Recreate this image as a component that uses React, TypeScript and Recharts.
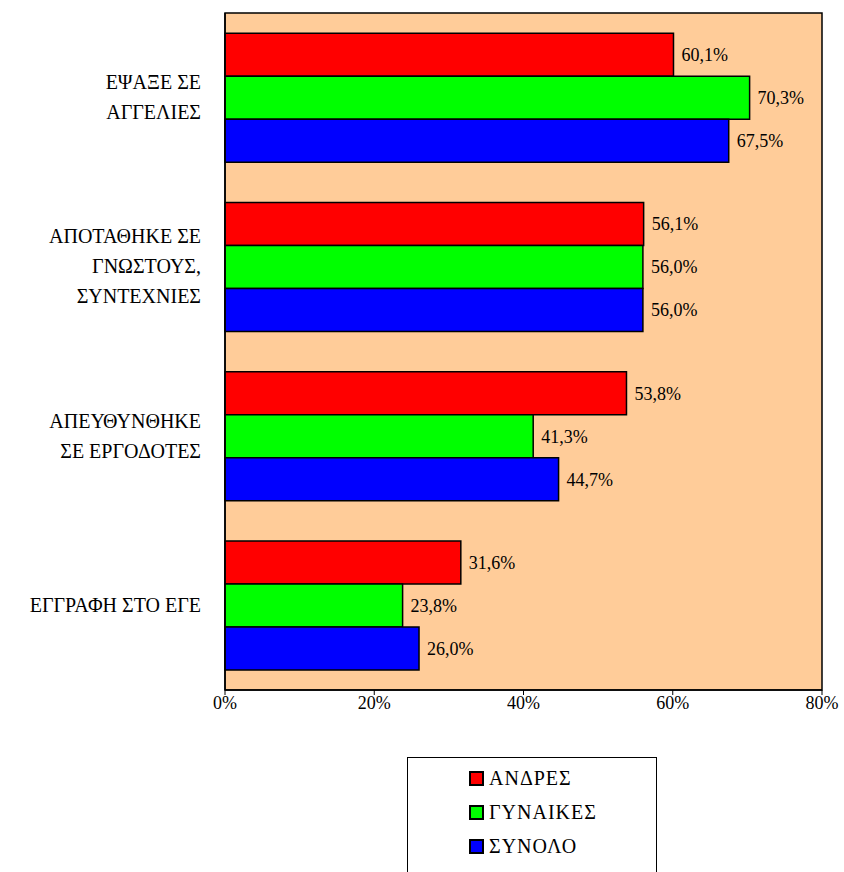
import React from 'react';
import {
  BarChart,
  Bar,
  XAxis,
  YAxis,
  Legend,
  LabelList,
  ReferenceArea,
} from 'recharts';

const categories = [
  'ΕΨΑΞΕ ΣΕ|ΑΓΓΕΛΙΕΣ',
  'ΑΠΟΤΑΘΗΚΕ ΣΕ|ΓΝΩΣΤΟΥΣ,|ΣΥΝΤΕΧΝΙΕΣ',
  'ΑΠΕΥΘΥΝΘΗΚΕ|ΣΕ ΕΡΓΟΔΟΤΕΣ',
  'ΕΓΓΡΑΦΗ ΣΤΟ ΕΓΕ',
];
const men = [60.1, 56.1, 53.8, 31.6];
const women = [70.3, 56.0, 41.3, 23.8];
const total = [67.5, 56.0, 44.7, 26.0];
const xTicks = [0, 20, 40, 60, 80];
const bandTicks = [0, 1, 2, 3, 4];

const seriesInfo = [
  { key: 'men', name: 'ΑΝΔΡΕΣ', color: '#FF0000' },
  { key: 'women', name: 'ΓΥΝΑΙΚΕΣ', color: '#00FF00' },
  { key: 'total', name: 'ΣΥΝΟΛΟ', color: '#0000FF' },
];

const data = categories.map((c, i) => ({
  cat: c,
  men: men[i],
  women: women[i],
  total: total[i],
}));

const FONT = 'Liberation Serif';

const fmt = (v: any) => `${Number(v).toFixed(1).replace('.', ',')}%`;

// multi-line category labels, split on '|'
const CategoryTick = ({ x, y, payload }: any) => {
  const lines = String(payload.value).split('|');
  const lh = 30;
  const startY = y - ((lines.length - 1) * lh) / 2;
  return (
    <text
      x={x}
      y={startY}
      textAnchor="end"
      style={{ fontFamily: FONT, fontSize: 20, fill: '#000' }}
    >
      {lines.map((l, i) => (
        <tspan key={i} x={x} y={startY + i * lh} dy="0.33em">
          {l}
        </tspan>
      ))}
    </text>
  );
};

const XTick = ({ x, y, payload }: any) => (
  <text
    x={x}
    y={y + 12}
    textAnchor="middle"
    style={{ fontFamily: FONT, fontSize: 18, fill: '#000' }}
  >
    {`${payload.value}%`}
  </text>
);

const LegendBox = () => (
  <div
    style={{
      width: 250,
      height: 130,
      border: '1px solid #000',
      background: '#fff',
      boxSizing: 'border-box',
      paddingTop: 3,
      fontFamily: FONT,
      fontSize: 20,
    }}
  >
    {seriesInfo.map((s) => (
      <div
        key={s.key}
        style={{
          display: 'flex',
          alignItems: 'center',
          height: 34,
          paddingLeft: 61,
        }}
      >
        <span
          style={{
            display: 'inline-block',
            width: 11,
            height: 11,
            background: s.color,
            border: '2px solid #000',
            marginRight: 5,
          }}
        />
        <span style={{ letterSpacing: 1 }}>{s.name}</span>
      </div>
    ))}
  </div>
);

export default function App() {
  return (
    <div style={{ position: 'absolute', top: 0, left: 0, width: 844, height: 872, overflow: 'hidden' }}>
      <BarChart
        width={844}
        height={872}
        data={data}
        layout="vertical"
        margin={{ top: 13, right: 22, left: 0, bottom: 152 }}
        barCategoryGap="12%"
        barGap={0}
      >
        <XAxis
          type="number"
          domain={[0, 80]}
          ticks={xTicks}
          axisLine={{ stroke: '#000', strokeWidth: 1.5 }}
          tickLine={{ stroke: '#000' }}
          tickSize={5}
          tick={<XTick />}
          height={30}
        />
        {/* numeric helper axis only for the tick marks between categories */}
        <YAxis
          yAxisId="band"
          type="number"
          domain={[0, 4]}
          ticks={bandTicks}
          width={0}
          axisLine={false}
          tickLine={{ stroke: '#000' }}
          tickSize={7}
          tickFormatter={() => ''}
        />
        <YAxis
          yAxisId="cat"
          type="category"
          dataKey="cat"
          width={225}
          axisLine={{ stroke: '#000', strokeWidth: 1.5 }}
          tickLine={false}
          tick={<CategoryTick />}
          tickMargin={18}
        />
        <ReferenceArea
          yAxisId="cat"
          x1={0}
          x2={80}
          fill="#FFCC99"
          fillOpacity={1}
          stroke="#000"
          strokeWidth={1.5}
          ifOverflow="extendDomain"
        />
        {seriesInfo.map((s) => (
          <Bar
            key={s.key}
            yAxisId="cat"
            dataKey={s.key}
            name={s.name}
            fill={s.color}
            stroke="#000"
            strokeWidth={1.5}
            isAnimationActive={false}
          >
            <LabelList
              dataKey={s.key}
              position="right"
              offset={8}
              formatter={fmt}
              style={{ fontFamily: FONT, fontSize: 18, fill: '#000' }}
            />
          </Bar>
        ))}
        <Legend
          layout="horizontal"
          verticalAlign="middle"
          align="center"
          content={<LegendBox />}
          wrapperStyle={{ position: 'absolute', top: 757, left: 407, width: 250 }}
        />
      </BarChart>
    </div>
  );
}
